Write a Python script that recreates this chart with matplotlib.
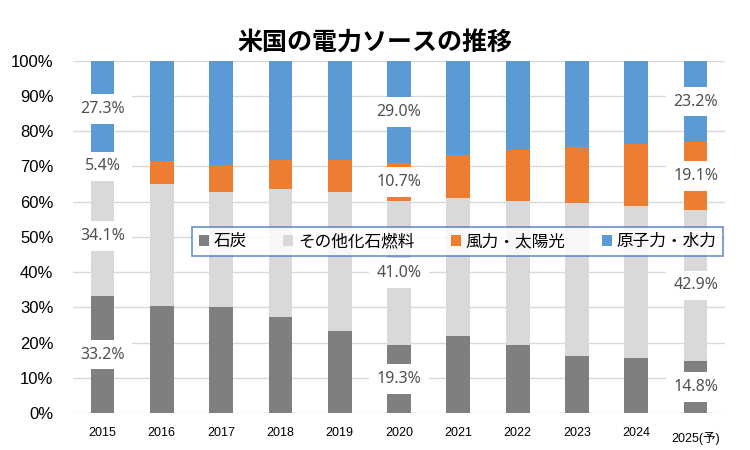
import numpy as np
import matplotlib
matplotlib.use('Agg')
from matplotlib import pyplot as plt
from matplotlib.patches import Rectangle

plt.rcParams['font.family'] = ['Liberation Sans', 'Noto Sans CJK JP', 'DejaVu Sans']

years = ['2015', '2016', '2017', '2018', '2019', '2020',
         '2021', '2022', '2023', '2024', '2025(予)']
coal = [33.2, 30.5, 30.0, 27.3, 23.3, 19.3, 21.8, 19.3, 16.2, 15.7, 14.8]
other_fossil = [34.1, 34.5, 32.8, 36.2, 39.5, 41.0, 39.2, 40.9, 43.3, 43.0, 42.9]
wind_solar = [5.4, 6.5, 7.5, 8.2, 9.0, 10.7, 12.2, 14.5, 16.0, 17.6, 19.1]
nuclear_hydro = [27.3, 28.5, 29.7, 28.3, 28.2, 29.0, 26.8, 25.3, 24.5, 23.7, 23.2]
labelled = [0, 5, 10]

names = ['石炭', 'その他化石燃料', '風力・太陽光', '原子力・水力']
colors = ['#7f7f7f', '#d9d9d9', '#ed7d31', '#5b9bd5']
series = [coal, other_fossil, wind_solar, nuclear_hydro]

fig = plt.figure(figsize=(7.5, 4.5), dpi=100)
ax = fig.add_axes([0.097, 0.082, 0.87, 0.783])

x = np.arange(len(years))
bottom = np.zeros(len(years))
for vals, c, n in zip(series, colors, names):
    vals = np.array(vals)
    ax.bar(x, vals, 0.4, bottom=bottom, color=c, label=n, zorder=2)
    for i in labelled:
        mid = bottom[i] + vals[i] / 2
        # white label background, full category width
        ax.add_patch(Rectangle((x[i] - 0.5, mid - 4.2), 1.0, 8.4,
                               fc='white', ec='none', zorder=3))
        ax.text(x[i], mid, '%.1f%%' % vals[i],
                ha='center', va='center', fontsize=11.5, color='#505050',
                family=['Noto Sans', 'DejaVu Sans'], zorder=4)
    bottom += vals

ax.set_xlim(-0.5, len(years) - 0.5)
ax.set_ylim(0, 100)
ax.set_yticks(np.arange(0, 101, 10))
ax.set_yticklabels(['%d%%' % v for v in range(0, 101, 10)], fontsize=12)
ax.set_xticks(x)
ax.set_xticklabels(years, fontsize=9)
ax.get_xticklabels()[-1].set_y(-0.015)
ax.tick_params(length=0, pad=10)
ax.tick_params(axis='y', pad=14)
ax.grid(axis='y', color='#d9d9d9', lw=1, zorder=0)
for s in ax.spines.values():
    s.set_visible(False)

leg = ax.legend(loc='lower left', bbox_to_anchor=(0.183, 0.446, 0.814, 0.097),
                mode='expand', ncol=4, fontsize=12, frameon=True, fancybox=False,
                handlelength=0.6, handleheight=0.6, handletextpad=0.3,
                columnspacing=1.2, borderaxespad=0)
leg.get_frame().set_edgecolor('#4472c4')
leg.get_frame().set_linewidth(1.2)
leg.set_zorder(5)

fig.text(0.5, 0.905, '米国の電力ソースの推移', ha='center', va='center',
         fontsize=18, fontweight='bold', family=['Noto Sans CJK JP'])

fig.savefig('out.png')
